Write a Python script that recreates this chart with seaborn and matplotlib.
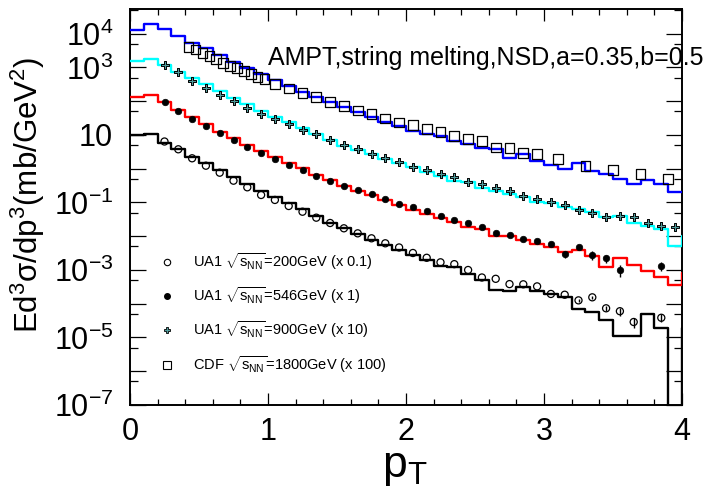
import numpy as np
import pandas as pd
import matplotlib
matplotlib.use("Agg")
import matplotlib.pyplot as plt
from matplotlib.lines import Line2D
from matplotlib.ticker import FixedLocator, FuncFormatter, MultipleLocator
import seaborn as sns

# ---------------------------------------------------------------- data
# AMPT histograms, 0.1 GeV bins from 0 to 4.1 (last bin just past the frame)
hist_edges = [round(0.1 * i, 2) for i in range(42)]

ampt_1800 = [1.29e4, 1.95e4, 1.35e4, 8.57e3, 5.43e3, 3.71e3, 2.34e3, 1.49e3, 946, 641,
             427, 283, 192, 136, 97.0, 67.6, 49.0, 34.8, 24.8, 18.5,
             13.4, 10.7, 9.33, 6.78, 5.41, 4.12, 3.77, 2.04, 2.74, 1.73,
             1.29, 0.964, 1.45, 0.875, 0.698, 0.497, 0.353, 0.465, 0.353, 0.209,
             0.209]
ampt_900 = [1.59e3, 1.79e3, 1.19e3, 752, 479, 324, 201, 122, 81.3, 52.5,
            34.8, 23.8, 15.8, 10.7, 6.97, 4.72, 3.60, 2.74, 1.95, 1.45,
            1.10, 0.791, 0.618, 0.440, 0.392, 0.278, 0.219, 0.179, 0.141, 0.106,
            0.0946, 0.0752, 0.0641, 0.0524, 0.0379, 0.0387, 0.0247, 0.0208, 0.0161, 0.00525,
            0.0102]
ampt_546 = [136, 153, 93.1, 55.1, 34.8, 21.6, 12.5, 7.98, 5.06, 3.43,
            2.28, 1.53, 1.03, 0.653, 0.465, 0.308, 0.224, 0.167, 0.119, 0.0843,
            0.0600, 0.0441, 0.0352, 0.0270, 0.0185, 0.0166, 0.0103, 0.00984, 0.00759, 0.00570,
            0.00471, 0.00349, 0.00400, 0.00260, 0.00123, 0.00222, 0.00141, 0.000914, 0.000621, 0.000360,
            0.000798]
ampt_200 = [10.0, 10.8, 5.68, 3.77, 2.28, 1.45, 0.918, 0.558, 0.353, 0.224,
            0.143, 0.0946, 0.0630, 0.0398, 0.0255, 0.0172, 0.0117, 0.00774, 0.00551, 0.00392,
            0.00278, 0.00198, 0.00129, 0.00125, 0.000776, 0.000506, 0.000255, 0.000239, 0.000324, 0.000236,
            0.000192, 0.000162, 6.85e-5, 5.51e-5, 3.30e-5, 1.09e-5, 1.09e-5, 4.97e-5, 1.87e-5, 0.0,
            1.87e-5]

# UA1 200 GeV (x 0.1)
ua1_200_pt = [0.25, 0.35, 0.45, 0.55, 0.65, 0.75, 0.85, 0.95, 1.05, 1.15,
              1.25, 1.35, 1.45, 1.55, 1.65, 1.75, 1.85, 1.95, 2.05, 2.15,
              2.25, 2.35, 2.45, 2.55, 2.65, 2.75, 2.85, 2.95, 3.05, 3.15,
              3.25, 3.35, 3.45, 3.55, 3.65, 3.85]
ua1_200_val = [6.41, 3.77, 2.04, 1.23, 0.764, 0.443, 0.282, 0.167, 0.119, 0.0787,
               0.0533, 0.0355, 0.0247, 0.0172, 0.0122, 0.00869, 0.00618, 0.00465, 0.00319, 0.00230,
               0.00169, 0.00149, 0.00100, 0.000600, 0.000548, 0.000382, 0.000377, 0.000327, 0.000195, 0.000185,
               0.000126, 0.000155, 7.33e-5, 6.01e-5, 2.88e-5, 3.84e-5]
ua1_200_err = [0] * 30 + [1.5e-5, 2.0e-5, 1.4e-5, 1.6e-5, 1.0e-5, 1.0e-5]

# UA1 546 GeV (x 1)
ua1_546_pt = [0.25, 0.35, 0.45, 0.55, 0.65, 0.75, 0.85, 0.95, 1.05, 1.15,
              1.25, 1.35, 1.45, 1.55, 1.65, 1.75, 1.85, 1.95, 2.05, 2.15,
              2.25, 2.35, 2.45, 2.55, 2.65, 2.75, 2.85, 2.95, 3.05, 3.15,
              3.25, 3.35, 3.45, 3.55, 3.85]
ua1_546_val = [93.1, 52.5, 29.8, 18.7, 11.5, 7.11, 4.50, 2.87, 1.95, 1.29,
               0.918, 0.610, 0.443, 0.308, 0.234, 0.175, 0.124, 0.0904, 0.0752, 0.0560,
               0.0398, 0.0303, 0.0242, 0.0184, 0.0127, 0.0111, 0.00813, 0.00738, 0.00589, 0.00298,
               0.00486, 0.00278, 0.00222, 0.00102, 0.00133]
ua1_546_err = [0] * 29 + [0.0007, 0.0008, 0.0008, 0.0006, 0.0004, 0.0004]

# UA1 900 GeV (x 10)
ua1_900_pt = [0.25, 0.35, 0.45, 0.55, 0.65, 0.75, 0.85, 0.95, 1.05, 1.15,
              1.25, 1.35, 1.45, 1.55, 1.65, 1.75, 1.85, 1.95, 2.05, 2.15,
              2.25, 2.35, 2.45, 2.55, 2.65, 2.75, 2.85, 2.95, 3.05, 3.15,
              3.25, 3.35, 3.45, 3.55, 3.65, 3.75, 3.85, 3.95]
ua1_900_val = [1.19e3, 721, 406, 252, 153, 102, 61.8, 41.0, 29.2, 21.2,
               14.1, 10.5, 7.11, 5.06, 3.77, 2.74, 2.04, 1.62, 1.15, 0.918,
               0.698, 0.582, 0.413, 0.346, 0.264, 0.215, 0.159, 0.127, 0.101, 0.0843,
               0.0600, 0.0499, 0.0364, 0.0398, 0.0364, 0.0242, 0.0206, 0.0192]

# CDF 1800 GeV (x 100)
cdf_1800_pt = [0.425, 0.475, 0.525, 0.575, 0.625, 0.675, 0.725, 0.775, 0.825, 0.875,
               0.925, 0.975, 1.05, 1.15, 1.25, 1.35, 1.45, 1.55, 1.65, 1.75,
               1.85, 1.95, 2.05, 2.15, 2.25, 2.35, 2.45, 2.55, 2.65, 2.75,
               2.85, 2.95, 3.1, 3.3, 3.5, 3.7, 3.9]
cdf_1800_val = [4.13e3, 3.41e3, 2.73e3, 2.22e3, 1.79e3, 1.38e3, 1.12e3, 946, 787, 641,
                524, 456, 324, 239, 172, 131, 95.1, 73.3, 52.5, 41.9,
                30.6, 23.4, 19.4, 14.9, 12.1, 9.14, 7.71, 6.64, 4.27, 4.04,
                2.93, 2.74, 1.92, 1.21, 0.90, 0.689, 0.497]

legend_labels = [
    r"UA1 $\sqrt{\mathregular{s_{NN}}}$=200GeV (x 0.1)",
    r"UA1 $\sqrt{\mathregular{s_{NN}}}$=546GeV (x 1)",
    r"UA1 $\sqrt{\mathregular{s_{NN}}}$=900GeV (x 10)",
    r"CDF $\sqrt{\mathregular{s_{NN}}}$=1800GeV (x 100)",
]
title_text = "AMPT,string melting,NSD,a=0.35,b=0.5"
y_labelled = [4, 3, 1, -1, -3, -5, -7]

# ---------------------------------------------------------------- style
sns.set_style("ticks")
plt.rcParams["font.family"] = ["Liberation Sans", "DejaVu Sans"]
plt.rcParams["mathtext.fontset"] = "custom"
plt.rcParams["mathtext.rm"] = "Liberation Sans"
plt.rcParams["mathtext.it"] = "Liberation Sans:italic"
plt.rcParams["mathtext.bf"] = "Liberation Sans:bold"
plt.rcParams["mathtext.sf"] = "Liberation Sans"
for key in ["text.color", "axes.labelcolor", "xtick.color", "ytick.color", "axes.edgecolor"]:
    plt.rcParams[key] = "black"

fig = plt.figure(figsize=(7.06, 4.88), dpi=100)
ax = fig.add_axes([130 / 706, 1 - 405 / 488, 552 / 706, 396 / 488])
ax.set_yscale("log", nonpositive="clip")

# ---------------------------------------------------------------- histograms
centers = [round(0.5 * (a + b), 3) for a, b in zip(hist_edges[:-1], hist_edges[1:])]
for vals, col in [(ampt_200, "black"), (ampt_546, "#ff0000"),
                  (ampt_900, "#00ffff"), (ampt_1800, "#0000ff")]:
    hdf = pd.DataFrame({"pt": centers, "w": vals})
    sns.histplot(data=hdf, x="pt", weights="w", bins=hist_edges, element="step",
                 fill=False, color=col, linewidth=1.7, ax=ax, zorder=3)

# ---------------------------------------------------------------- data points
ax.errorbar(ua1_200_pt, ua1_200_val, yerr=ua1_200_err, fmt="none", ecolor="black",
            elinewidth=1.0, capsize=0, zorder=4)
ax.errorbar(ua1_546_pt, ua1_546_val, yerr=ua1_546_err, fmt="none", ecolor="black",
            elinewidth=1.0, capsize=0, zorder=4)
sns.scatterplot(x=ua1_200_pt, y=ua1_200_val, marker="o", s=26, facecolors="none",
                edgecolor="black", linewidth=0.9, ax=ax, zorder=5)
sns.scatterplot(x=ua1_546_pt, y=ua1_546_val, marker="o", s=22, color="black",
                edgecolor="black", linewidth=0.5, ax=ax, zorder=5)
sns.scatterplot(x=ua1_900_pt, y=ua1_900_val, marker="P", s=34, color="#4f9a9a",
                edgecolor="black", linewidth=0.7, ax=ax, zorder=5)
sns.scatterplot(x=cdf_1800_pt, y=cdf_1800_val, marker="s", s=48, facecolors="none",
                edgecolor="black", linewidth=0.9, ax=ax, zorder=5)

# ---------------------------------------------------------------- axes
ax.set_xlim(0, 4)
ax.set_ylim(1e-7, 10 ** 4.733)
ax.xaxis.set_major_locator(FixedLocator([0, 1, 2, 3, 4]))
ax.xaxis.set_minor_locator(MultipleLocator(0.2))
ax.xaxis.set_major_formatter(FuncFormatter(lambda v, p: f"{int(round(v))}"))
ax.yaxis.set_major_locator(FixedLocator([10.0 ** k for k in range(-7, 5)]))
ax.yaxis.set_minor_locator(FixedLocator([5 * 10.0 ** k for k in range(-8, 5)]))


def ylab(v, pos):
    k = int(round(np.log10(v)))
    if k not in y_labelled:
        return ""
    if k == 1:
        return r"$\mathregular{10}$"
    return r"$\mathregular{10^{%d}}$" % k


ax.yaxis.set_major_formatter(FuncFormatter(ylab))
ax.yaxis.set_minor_formatter(FuncFormatter(lambda v, p: ""))

ax.tick_params(axis="both", which="both", direction="in", top=True, right=True,
               width=0.9, color="black")
ax.tick_params(axis="y", which="major", length=11.5, labelsize=22, pad=12)
ax.tick_params(axis="y", which="minor", length=5.8)
ax.tick_params(axis="x", which="major", length=8.6, labelsize=22, pad=9)
ax.tick_params(axis="x", which="minor", length=4.3)
for sp in ax.spines.values():
    sp.set_linewidth(1.4)
    sp.set_color("black")
    sp.set_visible(True)

ax.set_xlabel(r"$\mathregular{p_{T}}$", fontsize=32)
ax.xaxis.set_label_coords(0.497, -0.106)
ax.set_ylabel(r"$\mathregular{Ed^{3}σ/dp^{3}(mb/GeV^{2})}$", fontsize=22.5)
ax.yaxis.set_label_coords(-0.15, 0.532)

ax.text(0.25, 0.8586, title_text, transform=ax.transAxes, fontsize=18,
        ha="left", va="baseline", clip_on=False, zorder=6)

# ---------------------------------------------------------------- legend
handles = [
    Line2D([], [], ls="none", marker="o", ms=4.6, mfc="none", mec="black", mew=0.8),
    Line2D([], [], ls="none", marker="o", ms=4.0, mfc="black", mec="black"),
    Line2D([], [], ls="none", marker="P", ms=5.0, mfc="#4f9a9a", mec="black", mew=0.6),
    Line2D([], [], ls="none", marker="s", ms=6.0, mfc="none", mec="black", mew=0.8),
]
ax.legend(handles, legend_labels, loc="upper left", bbox_to_anchor=(0.054, 0.388),
          frameon=False, fontsize=10.5, handlelength=1.0, handletextpad=1.3,
          labelspacing=0.95, borderpad=0, borderaxespad=0)

fig.savefig("out.png", dpi=100)
